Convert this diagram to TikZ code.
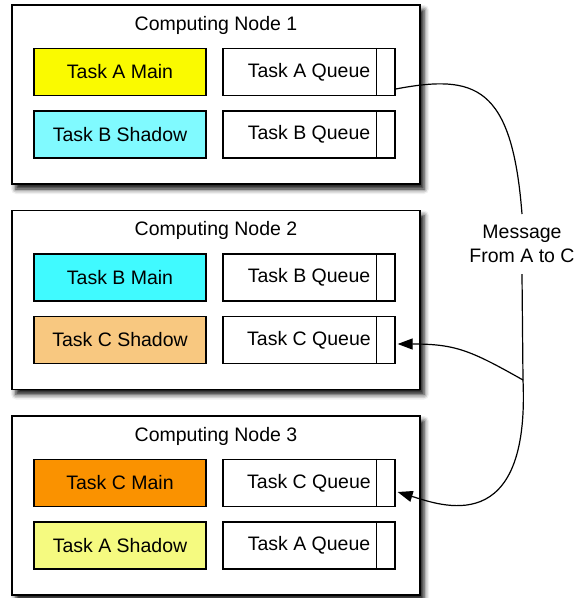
\documentclass[tikz,border=0pt]{standalone}
\usepackage{fontspec}
\setmainfont{Liberation Sans}
\usetikzlibrary{calc,arrows.meta,shadows.blur}
\definecolor{mainA}{HTML}{FAFA00}
\definecolor{shadowA}{HTML}{F5FA80}
\definecolor{mainB}{HTML}{40FAFF}
\definecolor{shadowB}{HTML}{80FAFF}
\definecolor{mainC}{HTML}{FA9200}
\definecolor{shadowC}{HTML}{F8C880}
\tikzset{
	% ---- default
	every node/.style={font=\fontsize{19.5}{24}\selectfont},
	% ---- custom
	computer/.style={draw, line width=1.4pt, fill=white, minimum width=408pt, minimum height=179pt,
		blur shadow={shadow xshift=4pt, shadow yshift=-5pt, shadow blur radius=5pt, shadow opacity=95}},
	task/.style={draw, line width=1.3pt, minimum width=172pt, minimum height=47pt},
	queue/.style={task, fill=white},
	slot/.style={line width=1.3pt},
	message/.style={line width=1.2pt},
	delivery/.style={message, -{Triangle[length=15pt,width=11pt]}},
}

\begin{document}
\begin{tikzpicture}[x=1pt, y=-1pt]

\useasboundingbox (0,0) rectangle (577,598);

% computing nodes %{{{2

	\node[computer] (comp1) at (216,94.5) {};
	\node[computer] (comp2) at (216,300) {};
	\node[computer] (comp3) at (216,505.5) {};

	\node (title1) at (216,25) {Computing Node 1};
	\node (title2) at (216,230.5) {Computing Node 2};
	\node (title3) at (216,436) {Computing Node 3};

% tasks %{{{2

	\node[task, fill=mainA] (mainA) at (120,72) {Task A Main};
	\node[task, fill=shadowB] (shadowB) at (120,134.5) {Task B Shadow};
	\node[task, fill=mainB] (mainB) at (120,277.5) {Task B Main};
	\node[task, fill=shadowC] (shadowC) at (120,340) {Task C Shadow};
	\node[task, fill=mainC] (mainC) at (120,483) {Task C Main};
	\node[task, fill=shadowA] (shadowA) at (120,545.5) {Task A Shadow};

% queues %{{{2

	\node[queue] (qA1) at (309,72) {Task A Queue};
	\node[queue] (qB1) at (309,134.5) {Task B Queue};
	\node[queue] (qB2) at (309,277.5) {Task B Queue};
	\node[queue] (qC2) at (309,340) {Task C Queue};
	\node[queue] (qC3) at (309,483) {Task C Queue};
	\node[queue] (qA3) at (309,545.5) {Task A Queue};

	\draw[slot] ([xshift=-19pt]qA1.north east) -- ([xshift=-19pt]qA1.south east);
	\draw[slot] ([xshift=-19pt]qB1.north east) -- ([xshift=-19pt]qB1.south east);
	\draw[slot] ([xshift=-19pt]qB2.north east) -- ([xshift=-19pt]qB2.south east);
	\draw[slot] ([xshift=-19pt]qC2.north east) -- ([xshift=-19pt]qC2.south east);
	\draw[slot] ([xshift=-19pt]qC3.north east) -- ([xshift=-19pt]qC3.south east);
	\draw[slot] ([xshift=-19pt]qA3.north east) -- ([xshift=-19pt]qA3.south east);

% message %{{{2

	\node[align=center, inner sep=11pt] (msg) at (522,244) {Message\\From A to C};
	\coordinate (split) at (523,380);

	\draw[message] ([yshift=-17pt]qA1.east) .. controls (475,74) and (512,85) .. (msg.north);
	\draw[message] (msg.south) -- (split);
	\draw[delivery] (split) .. controls (470,350) and (455,344) .. ([xshift=2pt,yshift=-4pt]qC2.east);
	\draw[delivery] (split) .. controls (530,540) and (440,505) .. ([xshift=2pt,yshift=-9pt]qC3.east);

% closing %{{{2

\end{tikzpicture}
\end{document}
